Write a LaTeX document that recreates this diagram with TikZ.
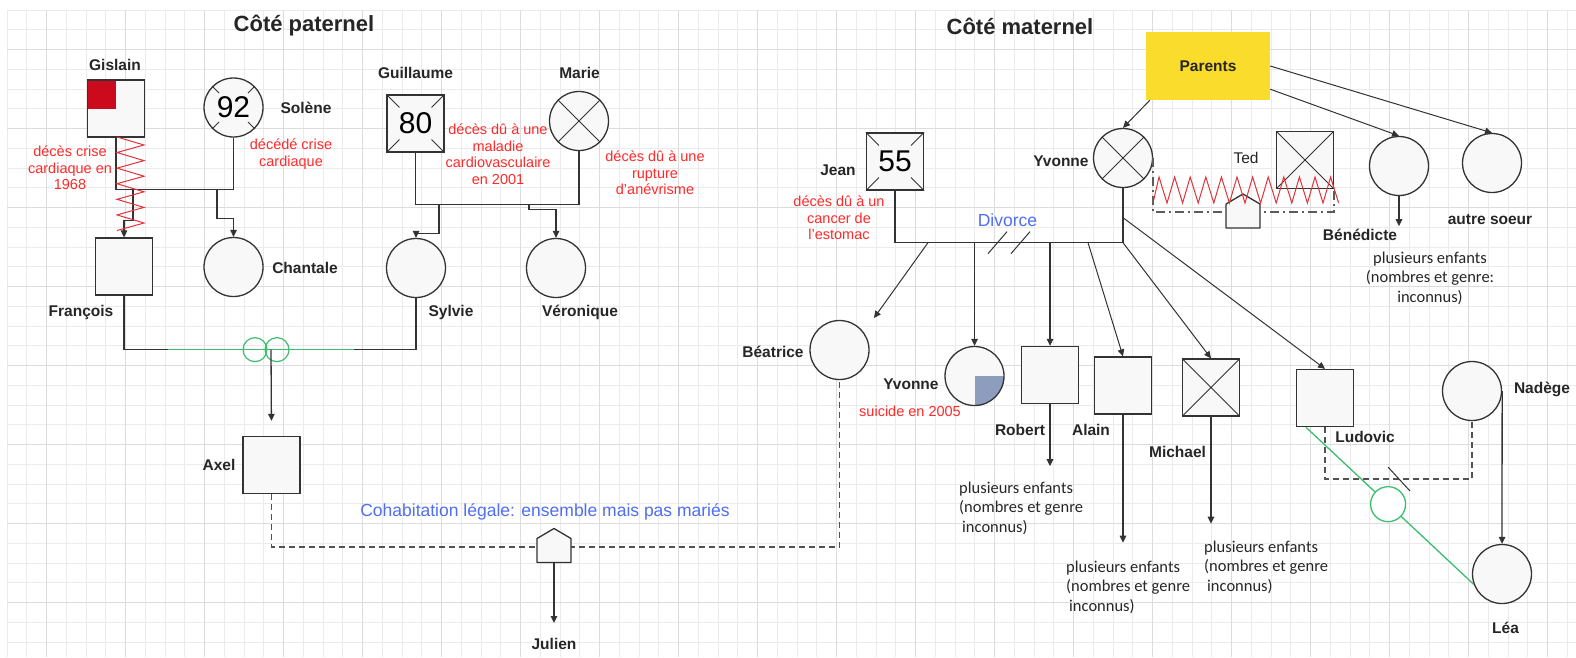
\documentclass[tikz,border=0pt]{standalone}
\usepackage{fontspec}
\setmainfont{Liberation Sans}
\newfontfamily\kidsfont{Carlito}
\usetikzlibrary{arrows.meta, calc}
\definecolor{gmline}{HTML}{333333}
\definecolor{gmfill}{HTML}{F8F8F8}
\definecolor{gmtext}{HTML}{262626}
\definecolor{gmgrid}{HTML}{EBEBEB}
\definecolor{gmgridmajor}{HTML}{DCDCDC}
\definecolor{gmred}{HTML}{FF2A2A}
\definecolor{gmdark}{HTML}{CC0A1E}
\definecolor{gmzig}{HTML}{E2333B}
\definecolor{gmblue}{HTML}{4F6EF2}
\definecolor{gmgreen}{HTML}{3CBE6E}
\definecolor{gmyellow}{HTML}{FADC2D}
\definecolor{gmquad}{HTML}{8C9DBD}

\tikzset{
  gridminor/.style={draw=gmgrid, line width=0.8pt},
  gridmajor/.style={draw=gmgridmajor, line width=1.1pt},
  male/.style={rectangle, draw=gmline, fill=gmfill, line width=1.3pt, minimum size=57pt, inner sep=0pt},
  female/.style={circle, draw=gmline, fill=gmfill, line width=1.3pt, minimum size=59pt, inner sep=0pt},
  crossed/.style={path picture={\draw[gmline, line width=0.9pt]
      (path picture bounding box.north west) -- (path picture bounding box.south east)
      (path picture bounding box.north east) -- (path picture bounding box.south west);}},
  redcorner/.style={path picture={\fill[gmdark] (path picture bounding box.north west) rectangle (path picture bounding box.center);}},
  quadfill/.style={path picture={\fill[gmquad] (path picture bounding box.center) rectangle (path picture bounding box.south east);}},
  agenum/.style={font=\fontsize{30}{30}\selectfont},
  tickline/.style={draw=gmline, line width=0.9pt},
  parentsbox/.style={rectangle, fill=gmyellow, minimum width=124pt, minimum height=68pt, text=gmtext, font=\fontsize{15.5}{18}\selectfont\bfseries},
  sidetitle/.style={text=gmtext, font=\fontsize{22}{26}\selectfont\bfseries, inner sep=0pt},
  pname/.style={text=gmtext, font=\fontsize{15.5}{18}\selectfont\bfseries, inner sep=0pt},
  deathnote/.style={text=gmred, font=\fontsize{14.5}{16.5}\selectfont, align=center, inner sep=0pt},
  bluenote/.style={text=gmblue, font=\fontsize{17.5}{20}\selectfont, inner sep=0pt},
  kidsnote/.style={text=gmtext, font=\kidsfont\fontsize{16.5}{19.5}\selectfont, align=left, anchor=west, inner sep=0pt},
  relline/.style={draw=gmline, line width=1.3pt},
  childarrow/.style={relline, -{Triangle[length=7pt, width=6.5pt]}},
  cohab/.style={draw=gmline!85, line width=1.6pt, dash pattern=on 6pt off 4pt},
  sepline/.style={draw=gmline!80, line width=1.4pt, dash pattern=on 9pt off 4pt on 2pt off 4pt},
  zigline/.style={draw=gmzig, line width=1pt},
  greenlink/.style={draw=gmgreen, line width=1.3pt},
  smallring/.style={circle, draw=gmgreen, line width=1.2pt, minimum size=24pt, inner sep=0pt},
  bigring/.style={circle, draw=gmgreen, fill=white, line width=1.3pt, minimum size=35pt, inner sep=0pt},
  housebox/.style={draw=gmline, fill=gmfill, line width=1.3pt, line join=round}
}

\begin{document}
\begin{tikzpicture}[x=1pt, y=-1pt]
\useasboundingbox (0,0) rectangle (1576,657);
\fill[white] (0,0) rectangle (1576,657);
\foreach \k in {0,...,79}
  \draw[gridminor] ({7+19.75*\k},10) -- ({7+19.75*\k},657);
\foreach \k in {0,...,32}
  \draw[gridminor] (7,{10+19.75*\k}) -- (1576,{10+19.75*\k});
\foreach \k in {0,...,19}
  \draw[gridmajor] ({46.5+79*\k},10) -- ({46.5+79*\k},657);
\foreach \k in {0,...,7}
  \draw[gridmajor] (7,{49.5+79*\k}) -- (1576,{49.5+79*\k});

\node[sidetitle] (tPat) at (304,26) {Côté paternel};
\node[sidetitle] (tMat) at (1020,26) {Côté maternel};

% paternal side
\node[male, redcorner] (gis) at (116,108.5) {};
\node[female, agenum] (sol) at (233.5,107.5) {92};
\node[male, agenum] (gui) at (415.5,123.5) {80};
\node[female, crossed] (mar) at (579,121) {};
\node[male] (fra) at (124,266.5) {};
\node[female] (cha) at (233.5,267) {};
\node[female] (syl) at (416,268) {};
\node[female] (ver) at (556,268) {};
\node[male] (axe) at (271.5,465) {};

% maternal side
\node[parentsbox] (par) at (1208,66) {Parents};
\node[male, agenum] (jea) at (895,161.5) {55};
\node[female, crossed] (yvm) at (1123,158) {};
\node[male, crossed] (ted) at (1305,160) {};
\node[female] (ben) at (1399,166) {};
\node[female] (aut) at (1492,163) {};
\node[female] (bea) at (839.5,350) {};
\node[female, quadfill] (yvd) at (974.5,376) {};
\node[male] (rob) at (1050,375) {};
\node[male] (ala) at (1123,385.5) {};
\node[male, crossed] (mic) at (1211,387.5) {};
\node[male] (lud) at (1325,398) {};
\node[female] (nad) at (1472,391) {};
\node[female] (lea) at (1502,574) {};

\foreach \nd/\r in {sol/0.68, gui/0.55, jea/0.55}
  \foreach \c in {north west, north east, south west, south east}
    \draw[tickline] (\nd.\c) -- ($(\nd.center)!\r!(\nd.\c)$);

\draw[relline] (gis.south) -- ++(0,52) coordinate (gsl) -| (sol.south);
\draw[childarrow] ($(gsl)+(17,0)$) -- ++(0,31) -| (fra.north);
\draw[childarrow] ($(gsl)+(101,0)$) -- ++(0,29) -| (cha.north);
\draw[relline] (gui.south) -- ++(0,52) coordinate (gml) -| (mar.south);
\draw[childarrow] ($(gml)+(23.5,0)$) -- ++(0,29) -| (syl.north);
\draw[childarrow] ($(gml)+(113.5,0)$) -- ++(0,5) -| (ver.north);
\draw[relline] (fra.south) -- ++(0,54) coordinate (fsl) -| (syl.south);
\draw[greenlink] ($(fsl)+(44,0)$) -- ($(fsl)+(230,0)$);
\node[smallring] (ringA) at ($(fsl)+(131,0)$) {};
\node[smallring] (ringB) at ($(fsl)+(153,0)$) {};
\draw[childarrow, shorten >=15pt] ($(fsl)+(147,0)$) -- (axe.north);

\draw[cohab] (axe.south) -- ++(0,53) -| (bea.south);
\coordinate (hj) at (554,546.5);
\draw[housebox] (hj) ++(-17,16) -- ++(0,-24) -- ++(17,-10) -- ++(17,10) -- ++(0,24) -- cycle;
\coordinate (julTip) at (554,623);
\draw[childarrow] ($(hj)+(0,16)$) -- (julTip);

\draw[zigline] (117,137) foreach \k in {0,...,5} { -- (144,{145+15.6*\k}) -- (117,{152.5+15.6*\k}) };

\draw[childarrow, line width=1pt] ($(par.south west)+(4,0)$) -- (yvm.north);
\draw[childarrow, line width=1pt] ($(par.south east)+(0,-11)$) -- (ben.north);
\draw[childarrow, line width=1pt] (par.east) -- (aut.north);
\draw[childarrow] (ben.south) -- ++(0,30);

\draw[relline] (jea.south) -- ++(0,52) coordinate (jyl) -| (yvm.south);
\coordinate (jyr) at (jyl -| yvm.south);
\coordinate (beaTip) at (874,318);
\draw[childarrow, line width=1pt] ($(jyl)+(33,0)$) -- (beaTip);
\draw[childarrow] (yvd.north |- jyl) -- (yvd.north);
\draw[childarrow] (rob.north |- jyl) -- (rob.north);
\draw[childarrow, line width=1pt] ($(jyl)+(193,0)$) -- (ala.north);
\draw[childarrow, line width=1pt] (jyr) -- (mic.north);
\draw[childarrow, line width=1pt] ($(jyr)+(0,-25)$) -- (lud.north);
\foreach \dx in {102.5,125.5}
  \draw[relline, line width=1pt] ($(jyl)+(\dx-9.5,11)$) -- ($(jyl)+(\dx+9.5,-11)$);
\draw[childarrow] (rob.south) -- ++(0,62);
\draw[childarrow] (ala.south) -- ++(0,128);
\draw[childarrow] (mic.south) -- ++(0,107);

\draw[sepline] (yvm.east) -- ++(0,54) -| (ted.south east);
\coordinate (ht) at (1243,212);
\draw[housebox] (ht) ++(-17,16) -- ++(0,-24) -- ++(17,-10) -- ++(17,10) -- ++(0,24) -- cycle;
\draw[zigline] (1153,203) foreach \k in {0,...,11} { -- ({1159+15.6*\k},177) -- ({1167+15.6*\k},203) };

\draw[cohab] (lud.south) -- ++(0,52) -| (nad.south);
\coordinate (lns) at (1399,479);
\draw[relline, line width=1pt] ($(lns)+(-11,-12)$) -- ($(lns)+(11,12)$);
\draw[childarrow] (nad.east) -- (lea.north);
\draw[greenlink] ($(lud.south west)+(10,0)$) -- node[bigring, pos=0.49] (lring) {} (lea.200);

\node[pname] (lGis) at (115,65) {Gislain};
\node[pname] (lSol) at (306,108) {Solène};
\node[pname] (lCha) at (305,268) {Chantale};
\node[pname] (lFra) at (81,312) {François};
\node[pname] (lGui) at (415.5,73) {Guillaume};
\node[pname] (lMar) at (579.5,73) {Marie};
\node[pname] (lSyl) at (451,312) {Sylvie};
\node[pname] (lVer) at (580,312) {Véronique};
\node[pname] (lAxe) at (219,465) {Axel};
\node[pname] (lJul) at (554,644) {Julien};
\node[pname] (lJea) at (838,170) {Jean};
\node[pname] (lYvm) at (1061,161) {Yvonne};
\node[pname, font=\fontsize{15.5}{18}\selectfont] (lTed) at (1246,158) {Ted};
\node[pname] (lBen) at (1360,235) {Bénédicte};
\node[pname] (lAut) at (1490,220) {autre soeur};
\node[pname] (lBea) at (773,352) {Béatrice};
\node[pname] (lYvd) at (911,384) {Yvonne};
\node[pname] (lRob) at (1020,430) {Robert};
\node[pname] (lAla) at (1091,430) {Alain};
\node[pname] (lMic) at (1177.5,452) {Michael};
\node[pname] (lLud) at (1365,437) {Ludovic};
\node[pname] (lNad) at (1542,389) {Nadège};
\node[pname] (lLea) at (1505.5,628) {Léa};

\node[deathnote] (nGis) at (70,168) {décès crise\\cardiaque en\\1968};
\node[deathnote] (nSol) at (291,154) {décédé crise\\cardiaque};
\node[deathnote] (nGui) at (498,154) {décès dû à une\\maladie\\cardiovasculaire\\en 2001};
\node[deathnote] (nMar) at (655,173) {décès dû à une\\rupture\\d'anévrisme};
\node[deathnote] (nJea) at (839,218) {décès dû à un\\cancer de\\l'estomac};
\node[deathnote] (nYvd) at (910,411) {suicide en 2005};

\node[bluenote] (bDiv) at (1007.5,220) {Divorce};
\node[bluenote] (bCoh) at (545,512) {Cohabitation légale: ensemble mais pas mariés};

\node[kidsnote, align=center, anchor=center] (kBen) at (1430,278) {plusieurs enfants\\(nombres et genre:\\inconnus)};
\node[kidsnote] (kRob) at (959,508) {plusieurs enfants\\(nombres et genre\\\hspace*{3pt}inconnus)};
\node[kidsnote] (kAla) at (1066,587) {plusieurs enfants\\(nombres et genre\\\hspace*{3pt}inconnus)};
\node[kidsnote] (kMic) at (1204,567) {plusieurs enfants\\(nombres et genre\\\hspace*{3pt}inconnus)};
\end{tikzpicture}
\end{document}
